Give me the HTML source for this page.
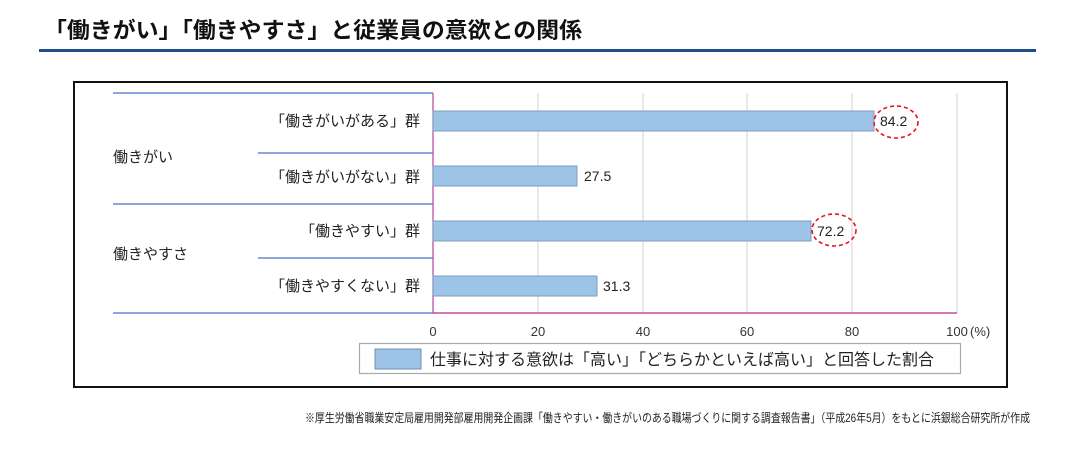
<!DOCTYPE html>
<html><head><meta charset="utf-8"><style>
body{margin:0;background:#fff;width:1080px;height:446px;overflow:hidden;font-family:"Liberation Sans","Noto Sans CJK JP",sans-serif;}
</style></head><body>
<svg width="1080" height="446" xmlns="http://www.w3.org/2000/svg" font-family="Liberation Sans, Noto Sans CJK JP, sans-serif">
<text x="44" y="38" font-size="22" font-weight="bold" fill="#111" textLength="538" lengthAdjust="spacingAndGlyphs">「働きがい」「働きやすさ」と従業員の意欲との関係</text>
<rect x="39" y="49" width="997" height="3" fill="#1f4e8c"/>
<rect x="74" y="82" width="933" height="305" fill="none" stroke="#111" stroke-width="2"/>
<g stroke="#e0e0e0" stroke-width="1.5">
<line x1="538" y1="93" x2="538" y2="313"/><line x1="643" y1="93" x2="643" y2="313"/>
<line x1="747" y1="93" x2="747" y2="313"/><line x1="852" y1="93" x2="852" y2="313"/>
<line x1="957" y1="93" x2="957" y2="313"/>
</g>
<g stroke="#4472c4" stroke-width="1.3">
<line x1="113" y1="93" x2="433" y2="93"/><line x1="258" y1="153" x2="433" y2="153"/>
<line x1="113" y1="204" x2="433" y2="204"/><line x1="258" y1="258" x2="433" y2="258"/>
<line x1="113" y1="313" x2="433" y2="313"/>
</g>
<line x1="433" y1="93" x2="433" y2="313" stroke="#c04fa8" stroke-width="1.3"/>
<line x1="433" y1="313" x2="957" y2="313" stroke="#c04fa8" stroke-width="1.5"/>
<g fill="#9dc3e6" stroke="#7f9cbf" stroke-width="1">
<rect x="433" y="111" width="441" height="20"/>
<rect x="433" y="166" width="144" height="20"/>
<rect x="433" y="221" width="378" height="20"/>
<rect x="433" y="276" width="164" height="20"/>
</g>
<g font-size="14" fill="#222">
<text x="880" y="126">84.2</text><text x="584" y="181">27.5</text>
<text x="817" y="236">72.2</text><text x="603" y="291">31.3</text>
</g>
<g fill="none" stroke="#e8141c" stroke-width="1.6" stroke-dasharray="4,3">
<ellipse cx="896" cy="122" rx="22" ry="16"/>
<ellipse cx="834" cy="230" rx="22" ry="16"/>
</g>
<g font-size="15" fill="#222" text-anchor="end">
<text x="420" y="126">「働きがいがある」群</text>
<text x="420" y="182">「働きがいがない」群</text>
<text x="420" y="236">「働きやすい」群</text>
<text x="420" y="291">「働きやすくない」群</text>
</g>
<g font-size="15" fill="#222">
<text x="113" y="162">働きがい</text><text x="113" y="259">働きやすさ</text>
</g>
<g font-size="13" fill="#333" text-anchor="middle">
<text x="433" y="336">0</text><text x="538" y="336">20</text><text x="643" y="336">40</text>
<text x="747" y="336">60</text><text x="852" y="336">80</text><text x="957" y="336">100</text>
</g>
<text x="970" y="336" font-size="13" fill="#333">(%)</text>
<rect x="359.5" y="343.5" width="601" height="30" fill="#fff" stroke="#aaa" stroke-width="1.2"/>
<rect x="375" y="349" width="46" height="20" fill="#9dc3e6" stroke="#6f8fb5"/>
<text x="430" y="365" font-size="16" fill="#222">仕事に対する意欲は「高い」「どちらかといえば高い」と回答した割合</text>
<text x="305" y="422" font-size="12" fill="#222" textLength="725" lengthAdjust="spacingAndGlyphs">※厚生労働省職業安定局雇用開発部雇用開発企画課「働きやすい・働きがいのある職場づくりに関する調査報告書」（平成26年5月）をもとに浜銀総合研究所が作成</text>
</svg>
</body></html>
